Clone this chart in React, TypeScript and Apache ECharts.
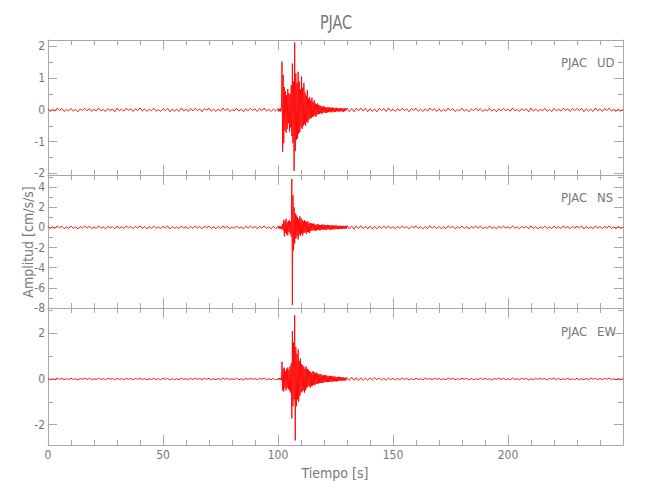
import React, { useEffect, useRef } from "react";
import * as echarts from "echarts";

// ---- data ----
const STATION = "PJAC";
const COMPONENTS = ["UD", "NS", "EW"];

// sample times: quiet parts every 1 s, event window every 0.25 s
const PRE_TIMES = Array.from({ length: 100 }, (_, i) => i);
const EVENT_TIMES = Array.from({ length: 120 }, (_, i) => 100 + i * 0.25);
const POST_TIMES = Array.from({ length: 121 }, (_, i) => 130 + i);

const UD_PRE = [
  0.03, -0.05, 0.02, -0.04, 0.06, -0.02, 0.04, -0.05, 0.01, -0.03,
  0.05, -0.04, 0.02, -0.06, 0.03, -0.02, 0.05, -0.03, 0.04, -0.05,
  0.02, -0.04, 0.06, -0.03, 0.01, -0.05, 0.04, -0.02, 0.03, -0.06,
  0.05, -0.03, 0.02, -0.04, 0.05, -0.01, 0.03, -0.05, 0.04, -0.02,
  0.06, -0.04, 0.03, -0.05, 0.02, -0.03, 0.05, -0.04, 0.01, -0.05,
  0.04, -0.02, 0.05, -0.06, 0.03, -0.04, 0.02, -0.05, 0.06, -0.03,
  0.02, -0.05, 0.04, -0.03, 0.05, -0.02, 0.03, -0.06, 0.04, -0.01,
  0.05, -0.04, 0.02, -0.05, 0.03, -0.04, 0.06, -0.02, 0.04, -0.05,
  0.01, -0.03, 0.05, -0.04, 0.02, -0.06, 0.04, -0.03, 0.05, -0.02,
  0.03, -0.05, 0.04, -0.02, 0.06, -0.04, 0.02, -0.05, 0.03, -0.04,
];
const UD_EVENT = [
  0.04, -0.05, 0.03, -0.04, 0.05, -0.05, 0.06, 1.52, -1.32, 1.1,
  -1.05, 0.72, -0.64, 0.58, -0.72, 0.46, -0.6, 0.66, -0.42, 0.52,
  -0.68, 0.5, -0.56, 0.78, -0.82, 1.46, -1.05, 0.9, -1.92, 2.12,
  -1.3, 1.15, -0.95, 0.85, -0.9, 1.2, -0.75, 0.9, -0.7, 0.65,
  -0.55, 1.05, -0.6, 0.7, -0.5, 0.85, -0.45, 0.55, -0.5, 0.45,
  -0.38, 0.62, -0.4, 0.35, -0.3, 0.4, -0.28, 0.3, -0.25, 0.38,
  -0.22, 0.25, -0.2, 0.3, -0.18, 0.2, -0.22, 0.17, -0.15, 0.2,
  -0.14, 0.15, -0.12, 0.14, -0.1, 0.12, -0.13, 0.1, -0.09, 0.11,
  -0.08, 0.1, -0.09, 0.08, -0.1, 0.07, -0.08, 0.09, -0.07, 0.08,
  -0.06, 0.07, -0.08, 0.06, -0.07, 0.08, -0.05, 0.06, -0.07, 0.05,
  -0.06, 0.07, -0.05, 0.06, -0.04, 0.05, -0.06, 0.04, -0.05, 0.06,
  -0.04, 0.05, -0.05, 0.04, -0.06, 0.05, -0.04, 0.05, -0.03, 0.04,
];
const UD_POST = [
  0.06, -0.05, 0.04, -0.06, 0.05, -0.03, 0.06, -0.04, 0.05, -0.06,
  0.04, -0.05, 0.03, -0.06, 0.05, -0.02, 0.04, -0.05, 0.06, -0.03,
  0.02, -0.05, 0.04, -0.03, 0.05, -0.02, 0.03, -0.06, 0.04, -0.01,
  0.05, -0.04, 0.02, -0.05, 0.03, -0.04, 0.06, -0.02, 0.04, -0.05,
  0.03, -0.05, 0.02, -0.04, 0.06, -0.02, 0.04, -0.05, 0.01, -0.03,
  0.05, -0.04, 0.02, -0.06, 0.03, -0.02, 0.05, -0.03, 0.04, -0.05,
  0.01, -0.03, 0.05, -0.04, 0.02, -0.06, 0.04, -0.03, 0.05, -0.02,
  0.02, -0.04, 0.06, -0.03, 0.01, -0.05, 0.04, -0.02, 0.03, -0.06,
  0.06, -0.04, 0.03, -0.05, 0.02, -0.03, 0.05, -0.04, 0.01, -0.05,
  0.05, -0.03, 0.02, -0.04, 0.05, -0.01, 0.03, -0.05, 0.04, -0.02,
  0.04, -0.02, 0.05, -0.06, 0.03, -0.04, 0.02, -0.05, 0.06, -0.03,
  0.03, -0.05, 0.04, -0.02, 0.06, -0.04, 0.02, -0.05, 0.03, -0.04,
  0.02,
];

const NS_PRE = [
  0.1, -0.14, 0.06, -0.12, 0.15, -0.05, 0.11, -0.13, 0.04, -0.09,
  0.13, -0.1, 0.07, -0.16, 0.09, -0.06, 0.14, -0.08, 0.12, -0.13,
  0.05, -0.11, 0.16, -0.09, 0.04, -0.14, 0.1, -0.06, 0.08, -0.15,
  0.13, -0.08, 0.06, -0.11, 0.14, -0.04, 0.09, -0.13, 0.1, -0.07,
  0.15, -0.1, 0.08, -0.14, 0.06, -0.09, 0.13, -0.11, 0.04, -0.12,
  0.11, -0.06, 0.14, -0.16, 0.08, -0.1, 0.05, -0.13, 0.15, -0.08,
  0.06, -0.13, 0.1, -0.09, 0.14, -0.05, 0.08, -0.15, 0.11, -0.04,
  0.13, -0.1, 0.06, -0.14, 0.09, -0.11, 0.16, -0.06, 0.1, -0.13,
  0.04, -0.09, 0.14, -0.1, 0.06, -0.15, 0.11, -0.08, 0.13, -0.06,
  0.09, -0.13, 0.1, -0.06, 0.15, -0.11, 0.05, -0.14, 0.12, -0.15,
];
const NS_EVENT = [
  0.12, -0.1, 0.14, -0.12, 0.1, -0.15, 0.12, -0.18, 0.35, -0.3,
  0.75, -0.9, 0.6, -0.55, 0.85, -0.7, 0.5, -0.8, 0.65, -0.45,
  0.7, -0.6, 0.55, -0.9, 4.8, -7.7, 3.2, -2.3, 2.0, -1.6,
  1.4, -1.1, 1.2, -0.9, 1.0, -1.2, 0.8, -0.7, 1.1, -0.85,
  0.9, -0.6, 0.75, -0.8, 0.6, -0.55, 0.7, -0.5, 0.6, -0.65,
  0.55, -0.45, 0.6, -0.5, 0.4, -0.55, 0.45, -0.35, 0.4, -0.3,
  0.35, -0.3, 0.4, -0.28, 0.3, -0.35, 0.25, -0.3, 0.32, -0.25,
  0.3, -0.28, 0.25, -0.3, 0.22, -0.26, 0.28, -0.2, 0.25, -0.22,
  0.28, -0.2, 0.24, -0.26, 0.2, -0.22, 0.25, -0.18, 0.22, -0.2,
  0.2, -0.24, 0.18, -0.2, 0.22, -0.17, 0.2, -0.19, 0.16, -0.2,
  0.18, -0.15, 0.2, -0.17, 0.14, -0.18, 0.16, -0.14, 0.18, -0.15,
  0.14, -0.16, 0.13, -0.15, 0.16, -0.12, 0.14, -0.13, 0.15, -0.12,
];
const NS_POST = [
  0.18, -0.16, 0.14, -0.19, 0.15, -0.12, 0.17, -0.14, 0.12, -0.16,
  0.13, -0.15, 0.1, -0.14, 0.12, -0.08, 0.13, -0.11, 0.15, -0.09,
  0.06, -0.13, 0.1, -0.09, 0.14, -0.05, 0.08, -0.15, 0.11, -0.04,
  0.13, -0.1, 0.06, -0.14, 0.09, -0.11, 0.16, -0.06, 0.1, -0.13,
  0.1, -0.14, 0.06, -0.12, 0.15, -0.05, 0.11, -0.13, 0.04, -0.09,
  0.13, -0.1, 0.07, -0.16, 0.09, -0.06, 0.14, -0.08, 0.12, -0.13,
  0.04, -0.09, 0.14, -0.1, 0.06, -0.15, 0.11, -0.08, 0.13, -0.06,
  0.05, -0.11, 0.16, -0.09, 0.04, -0.14, 0.1, -0.06, 0.08, -0.15,
  0.15, -0.1, 0.08, -0.14, 0.06, -0.09, 0.13, -0.11, 0.04, -0.12,
  0.13, -0.08, 0.06, -0.11, 0.14, -0.04, 0.09, -0.13, 0.1, -0.07,
  0.11, -0.06, 0.14, -0.16, 0.08, -0.1, 0.05, -0.13, 0.15, -0.08,
  0.09, -0.13, 0.1, -0.06, 0.15, -0.11, 0.05, -0.14, 0.12, -0.15,
  0.08,
];

const EW_PRE = [
  0.02, -0.03, 0.01, -0.03, 0.04, -0.01, 0.03, -0.03, 0.01, -0.02,
  0.03, -0.02, 0.01, -0.04, 0.02, -0.01, 0.03, -0.02, 0.03, -0.03,
  0.01, -0.03, 0.04, -0.02, 0.01, -0.03, 0.03, -0.01, 0.02, -0.04,
  0.03, -0.02, 0.01, -0.03, 0.03, -0.01, 0.02, -0.03, 0.03, -0.01,
  0.04, -0.03, 0.02, -0.03, 0.01, -0.02, 0.03, -0.03, 0.01, -0.03,
  0.03, -0.01, 0.03, -0.04, 0.02, -0.03, 0.01, -0.03, 0.04, -0.02,
  0.01, -0.03, 0.03, -0.02, 0.03, -0.01, 0.02, -0.04, 0.03, -0.01,
  0.03, -0.03, 0.01, -0.03, 0.02, -0.03, 0.04, -0.01, 0.03, -0.03,
  0.01, -0.02, 0.03, -0.03, 0.01, -0.04, 0.03, -0.02, 0.03, -0.01,
  0.02, -0.03, 0.03, -0.01, 0.04, -0.03, 0.01, -0.03, 0.02, -0.03,
];
const EW_EVENT = [
  -0.03, 0.04, -0.02, 0.03, -0.04, 0.03, -0.05, 0.76, -0.5, 0.45,
  -0.55, 0.5, -0.4, 0.35, -0.5, 0.45, -0.38, 0.5, -0.45, 0.4,
  -0.5, 0.55, -0.6, 0.7, -1.73, 2.1, -1.2, 1.6, -0.9, 2.8,
  -2.7, 1.4, -1.2, 1.1, -0.9, 1.3, -1.0, 0.8, -0.75, 0.9,
  -0.6, 0.65, -0.55, 0.6, -0.5, 0.55, -0.6, 0.45, -0.5, 0.55,
  -0.4, 0.45, -0.35, 0.4, -0.3, 0.35, -0.38, 0.3, -0.32, 0.28,
  -0.3, 0.35, -0.25, 0.3, -0.28, 0.25, -0.22, 0.28, -0.2, 0.24,
  -0.22, 0.2, -0.18, 0.22, -0.16, 0.2, -0.18, 0.15, -0.17, 0.16,
  -0.15, 0.17, -0.14, 0.16, -0.13, 0.15, -0.14, 0.12, -0.13, 0.14,
  -0.12, 0.13, -0.11, 0.14, -0.12, 0.1, -0.11, 0.12, -0.1, 0.11,
  -0.1, 0.09, -0.11, 0.08, -0.09, 0.1, -0.08, 0.09, -0.07, 0.08,
  -0.08, 0.07, -0.06, 0.08, -0.07, 0.06, -0.07, 0.05, -0.06, 0.07,
];
const EW_POST = [
  0.07, -0.06, 0.08, -0.05, 0.06, -0.07, 0.05, -0.06, 0.04, -0.06,
  0.05, -0.04, 0.06, -0.03, 0.05, -0.04, 0.03, -0.05, 0.04, -0.03,
  0.03, -0.04, 0.02, -0.03, 0.04, -0.02, 0.03, -0.04, 0.02, -0.03,
  0.03, -0.02, 0.01, -0.03, 0.03, -0.01, 0.02, -0.03, 0.03, -0.01,
  0.02, -0.03, 0.01, -0.03, 0.04, -0.01, 0.03, -0.03, 0.01, -0.02,
  0.03, -0.01, 0.03, -0.04, 0.02, -0.03, 0.01, -0.03, 0.04, -0.02,
  0.03, -0.02, 0.01, -0.04, 0.02, -0.01, 0.03, -0.02, 0.03, -0.03,
  0.01, -0.03, 0.04, -0.02, 0.01, -0.03, 0.03, -0.01, 0.02, -0.04,
  0.01, -0.03, 0.03, -0.02, 0.03, -0.01, 0.02, -0.04, 0.03, -0.01,
  0.04, -0.03, 0.02, -0.03, 0.01, -0.02, 0.03, -0.03, 0.01, -0.03,
  0.03, -0.03, 0.01, -0.03, 0.02, -0.03, 0.04, -0.01, 0.03, -0.03,
  0.02, -0.03, 0.03, -0.01, 0.04, -0.03, 0.01, -0.03, 0.02, -0.03,
  0.02,
];

// axis ranges and tick labels
const X_RANGE = [0, 250];
const X_TICK_LABELS = ["0", "50", "100", "150", "200"];
const Y_RANGES = [
  [-2.05, 2.2],
  [-8, 5.2],
  [-2.9, 3.12],
];
const Y_SPLITS = [5, 7, 3];
const Y_TICK_LABELS = [
  ["-2", "-1", "0", "1", "2"],
  ["-8", "-6", "-4", "-2", "0", "2", "4"],
  ["-2", "0", "2"],
];

const TITLE = "PJAC";
const X_TITLE = "Tiempo [s]";
const Y_TITLE = "Amplitud [cm/s/s]";

// ---- layout ----
const FONT = '"Liberation Sans Narrow", "DejaVu Sans Condensed", sans-serif';
const AXIS_COLOR = "#a8a8a8";
const TEXT_COLOR = "#777777";
const GRIDS = [
  { top: 40, height: 135, labelY: 62 },
  { top: 175, height: 133, labelY: 197 },
  { top: 308, height: 137, labelY: 331 },
];

function buildSeries(pre: number[], ev: number[], post: number[]) {
  const out: number[][] = [];
  PRE_TIMES.forEach((t, i) => out.push([t, pre[i]]));
  EVENT_TIMES.forEach((t, i) => out.push([t, ev[i]]));
  POST_TIMES.forEach((t, i) => out.push([t, post[i]]));
  return out;
}

const TRACES = [
  buildSeries(UD_PRE, UD_EVENT, UD_POST),
  buildSeries(NS_PRE, NS_EVENT, NS_POST),
  buildSeries(EW_PRE, EW_EVENT, EW_POST),
];

export default function App() {
  const ref = useRef<HTMLDivElement>(null);
  useEffect(() => {
    if (!ref.current) return;
    const chart = echarts.init(ref.current, null, { renderer: "svg" });

    const grid: any[] = [];
    const xAxis: any[] = [];
    const yAxis: any[] = [];
    const series: any[] = [];
    const graphic: any[] = [];

    const lineStyle = { color: AXIS_COLOR, width: 1 };
    const labelStyle = { color: TEXT_COLOR, fontFamily: FONT, fontSize: 12 };

    GRIDS.forEach((g, k) => {
      grid.push({ left: 48, width: 575, top: g.top, height: g.height });
      const isLast = k === GRIDS.length - 1;
      xAxis.push({
        type: "value",
        gridIndex: k,
        position: "bottom",
        min: X_RANGE[0],
        max: X_RANGE[1],
        interval: 50,
        axisLine: { show: true, onZero: false, lineStyle },
        axisTick: { show: true, inside: true, length: 10, lineStyle },
        minorTick: { show: true, splitNumber: 5, length: 5, lineStyle },
        splitLine: { show: false },
        minorSplitLine: { show: false },
        axisLabel: {
          show: isLast,
          margin: 4,
          ...labelStyle,
          formatter: (v: number) =>
            X_TICK_LABELS.includes(String(v)) ? String(v) : "",
        },
      });
      xAxis.push({
        type: "value",
        gridIndex: k,
        position: "top",
        min: X_RANGE[0],
        max: X_RANGE[1],
        interval: 50,
        axisLine: { show: true, onZero: false, lineStyle },
        axisTick: { show: true, inside: true, length: 10, lineStyle },
        minorTick: { show: true, splitNumber: 5, length: 5, lineStyle },
        splitLine: { show: false },
        axisLabel: { show: false },
      });
      const labels = Y_TICK_LABELS[k];
      yAxis.push({
        type: "value",
        gridIndex: k,
        position: "left",
        min: Y_RANGES[k][0],
        max: Y_RANGES[k][1],
        splitNumber: Y_SPLITS[k],
        axisLine: { show: true, onZero: false, lineStyle },
        axisTick: { show: true, inside: true, length: 9, lineStyle },
        minorTick: { show: true, splitNumber: 2, length: 5, lineStyle },
        splitLine: { show: false },
        axisLabel: {
          show: true,
          margin: 3,
          ...labelStyle,
          showMinLabel: true,
          showMaxLabel: true,
          formatter: (v: number) => {
            const r = Math.round(v);
            if (Math.abs(v - r) > 1e-6) return "";
            return labels.includes(String(r)) ? String(r) : "";
          },
        },
      });
      yAxis.push({
        type: "value",
        gridIndex: k,
        position: "right",
        min: Y_RANGES[k][0],
        max: Y_RANGES[k][1],
        splitNumber: Y_SPLITS[k],
        axisLine: { show: true, onZero: false, lineStyle },
        axisTick: { show: true, inside: true, length: 9, lineStyle },
        minorTick: { show: true, splitNumber: 2, length: 5, lineStyle },
        splitLine: { show: false },
        axisLabel: { show: false },
      });
      series.push({
        type: "line",
        xAxisIndex: 2 * k,
        yAxisIndex: 2 * k,
        data: TRACES[k],
        showSymbol: false,
        symbol: "none",
        lineStyle: { color: "#ff0000", width: 0.9 },
        itemStyle: { color: "#ff0000" },
        clip: true,
        silent: true,
      });
      graphic.push({
        type: "text",
        x: 561,
        y: g.labelY,
        style: {
          text: STATION,
          fontFamily: FONT,
          fontSize: 13,
          fill: TEXT_COLOR,
          align: "left",
          verticalAlign: "middle",
        },
      });
      graphic.push({
        type: "text",
        x: 597,
        y: g.labelY,
        style: {
          text: COMPONENTS[k],
          fontFamily: FONT,
          fontSize: 13,
          fill: TEXT_COLOR,
          align: "left",
          verticalAlign: "middle",
        },
      });
    });

    graphic.push({
      type: "text",
      x: 336,
      y: 22,
      scaleX: 0.8,
      style: {
        text: TITLE,
        fontFamily: FONT,
        fontSize: 20,
        fill: TEXT_COLOR,
        align: "center",
        verticalAlign: "middle",
      },
    });
    graphic.push({
      type: "text",
      x: 335,
      y: 473,
      style: {
        text: X_TITLE,
        fontFamily: FONT,
        fontSize: 14,
        fill: TEXT_COLOR,
        align: "center",
        verticalAlign: "middle",
      },
    });
    graphic.push({
      type: "text",
      x: 28,
      y: 242,
      rotation: Math.PI / 2,
      style: {
        text: Y_TITLE,
        fontFamily: FONT,
        fontSize: 14,
        fill: TEXT_COLOR,
        align: "center",
        verticalAlign: "middle",
      },
    });

    chart.setOption({
      animation: false,
      backgroundColor: "#ffffff",
      grid,
      xAxis,
      yAxis,
      series,
      graphic,
    });
    return () => chart.dispose();
  }, []);

  return (
    <div
      ref={ref}
      style={{ position: "fixed", left: 0, top: 0, width: 650, height: 500 }}
    />
  );
}
